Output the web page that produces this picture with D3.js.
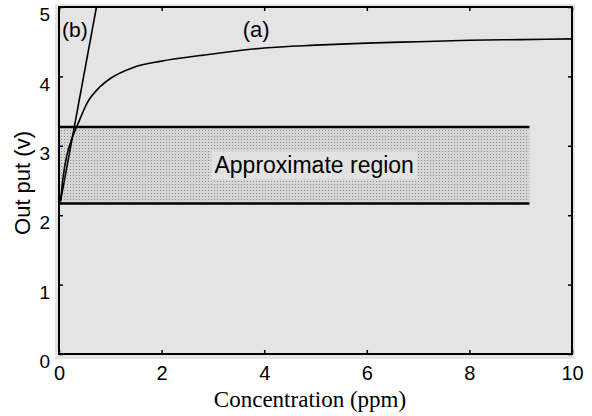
<!DOCTYPE html>
<html>
<head>
<meta charset="utf-8">
<script src="https://cdn.jsdelivr.net/npm/d3@7"></script>
<style>
  body { margin: 0; background: #fff; }
  svg { display: block; }
</style>
</head>
<body>
<div id="chart"></div>
<script>
// values
const curveA = [
  [0.03, 2.2], [0.08, 2.55], [0.15, 2.85], [0.25, 3.1], [0.36, 3.3],
  [0.55, 3.62], [0.8, 3.85], [1.0, 3.97], [1.45, 4.13], [2.0, 4.22],
  [2.75, 4.3], [4.0, 4.41], [5.0, 4.45], [6.0, 4.48], [7.0, 4.5],
  [8.0, 4.52], [9.0, 4.53], [10.0, 4.54]
];
const lineB = [[0.03, 2.2], [0.73, 5.0]];
const region = { x0: 0, x1: 9.17, y0: 2.17, y1: 3.27 };
const xTicks = [0, 2, 4, 6, 8, 10];
const yTicks = [0, 1, 2, 3, 4, 5];
const labels = { a: "(a)", b: "(b)", region: "Approximate region",
  x: "Concentration (ppm)", y: "Out put (v)" };

const width = 592, height = 416;
const margin = { left: 59, right: 20, top: 7, bottom: 62 };
const sans = "Liberation Sans, Arial, sans-serif";

const svg = d3.select("#chart").append("svg")
  .attr("width", width)
  .attr("height", height);

const x = d3.scaleLinear().domain([0, 10]).range([margin.left, width - margin.right]);
const y = d3.scaleLinear().domain([0, 5]).range([height - margin.bottom, margin.top]);

const defs = svg.append("defs");
const pat = defs.append("pattern")
  .attr("id", "dots")
  .attr("width", 3).attr("height", 3)
  .attr("patternUnits", "userSpaceOnUse");
pat.append("rect").attr("width", 3).attr("height", 3).attr("fill", "#d6d6d6");
pat.append("rect").attr("x", 1).attr("y", 1).attr("width", 1).attr("height", 1).attr("fill", "#8a8a8a");

defs.append("clipPath").attr("id", "plot")
  .append("rect")
  .attr("x", x(0)).attr("y", y(5))
  .attr("width", x(10) - x(0)).attr("height", y(0) - y(5));

// grey paper behind the plot
svg.append("rect")
  .attr("x", x(0) - 4).attr("y", y(5) - 3)
  .attr("width", x(10) - x(0) + 7).attr("height", y(0) - y(5) + 8)
  .attr("fill", "#e4e4e4");

// shaded band
svg.append("rect")
  .attr("x", x(region.x0)).attr("y", y(region.y1))
  .attr("width", x(region.x1) - x(region.x0))
  .attr("height", y(region.y0) - y(region.y1))
  .attr("fill", "url(#dots)");

svg.selectAll("line.band")
  .data([region.y0, region.y1])
  .enter().append("line")
  .attr("x1", x(region.x0)).attr("x2", x(region.x1))
  .attr("y1", d => y(d)).attr("y2", d => y(d))
  .attr("stroke", "#000").attr("stroke-width", 2.5);

// label box inside band
const tx = (x(region.x0) + x(region.x1)) / 2 + 20;
const ty = y((region.y0 + region.y1) / 2);
svg.append("rect")
  .attr("x", tx - 103).attr("y", ty - 14)
  .attr("width", 206).attr("height", 28)
  .attr("fill", "#e2e2e2");
svg.append("text")
  .attr("x", tx).attr("y", ty + 8)
  .attr("text-anchor", "middle")
  .style("font-family", sans)
  .style("font-size", "23px")
  .text(labels.region);

// curves
const line = d3.line().x(d => x(d[0])).y(d => y(d[1])).curve(d3.curveMonotoneX);
const g = svg.append("g").attr("clip-path", "url(#plot)");
g.append("path").datum(curveA)
  .attr("d", line)
  .attr("fill", "none").attr("stroke", "#000").attr("stroke-width", 1.6);
g.append("path").datum(lineB)
  .attr("d", d3.line().x(d => x(d[0])).y(d => y(d[1])))
  .attr("fill", "none").attr("stroke", "#000").attr("stroke-width", 1.6);

svg.append("text")
  .attr("x", x(0.06)).attr("y", y(4.57))
  .style("font-family", sans)
  .style("font-size", "21px")
  .text(labels.b);
svg.append("text")
  .attr("x", x(3.58)).attr("y", y(4.57))
  .style("font-family", sans)
  .style("font-size", "22px")
  .text(labels.a);

// axes with inward ticks on all four sides
svg.append("g")
  .attr("transform", `translate(0,${y(0)})`)
  .call(d3.axisBottom(x).tickValues(xTicks).tickSize(-4).tickPadding(12).tickFormat(d3.format("d")))
  .call(a => a.select(".domain").remove())
  .call(a => a.selectAll("line").attr("stroke-width", 1.5))
  .call(a => a.selectAll("text").style("font-family", sans).style("font-size", "20px").attr("fill", "#000"));

svg.append("g")
  .attr("transform", `translate(${x(0)},0)`)
  .call(d3.axisLeft(y).tickValues(yTicks).tickSize(-4).tickPadding(9).tickFormat(d3.format("d")))
  .call(a => a.select(".domain").remove())
  .call(a => a.selectAll("line").attr("stroke-width", 1.5))
  .call(a => a.selectAll("text").attr("dy", "0.72em").style("font-family", sans).style("font-size", "19px").attr("fill", "#000"));

svg.append("g")
  .attr("transform", `translate(0,${y(5)})`)
  .call(d3.axisTop(x).tickValues(xTicks).tickSize(-4).tickFormat(""))
  .call(a => a.select(".domain").remove())
  .call(a => a.selectAll("line").attr("stroke-width", 1.5));

svg.append("g")
  .attr("transform", `translate(${x(10)},0)`)
  .call(d3.axisRight(y).tickValues(yTicks).tickSize(-4).tickFormat(""))
  .call(a => a.select(".domain").remove())
  .call(a => a.selectAll("line").attr("stroke-width", 1.5));

// frame
svg.append("rect")
  .attr("x", x(0)).attr("y", y(5))
  .attr("width", x(10) - x(0)).attr("height", y(0) - y(5))
  .attr("fill", "none").attr("stroke", "#000").attr("stroke-width", 2);

// axis titles
svg.append("text")
  .attr("x", 310).attr("y", 407)
  .attr("text-anchor", "middle")
  .style("font-family", "Liberation Serif, Times New Roman, serif")
  .style("font-size", "23px")
  .text(labels.x);

svg.append("text")
  .attr("transform", `translate(30,183) rotate(-90)`)
  .attr("text-anchor", "middle")
  .style("font-family", sans)
  .style("font-size", "22px")
  .text(labels.y);
</script>
</body>
</html>
